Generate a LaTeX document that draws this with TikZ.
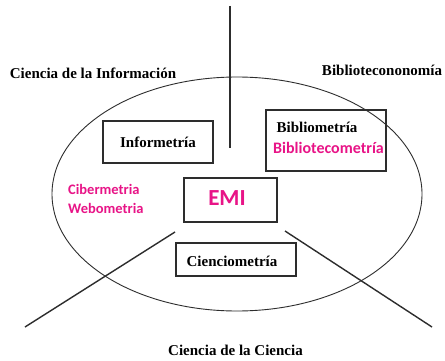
\documentclass[tikz,border=0pt]{standalone}
\usepackage{fontspec}
\setmainfont{Liberation Serif}
\newfontfamily\magfont{Carlito}
\definecolor{emipink}{RGB}{232,20,135}
\definecolor{inkgray}{RGB}{45,45,45}
\tikzset{
  lbl/.style={font=\bfseries\fontsize{15}{17}\selectfont, text=black, inner sep=0pt},
  pink/.style={font=\magfont\bfseries\fontsize{14.5}{16}\selectfont, text=emipink, inner sep=0pt},
  boxnode/.style={draw=inkgray, line width=1.1pt, inner sep=0pt},
  stroke/.style={draw=inkgray, line width=1.4pt},
}
\begin{document}
\begin{tikzpicture}[x=1pt,y=-1pt]
\useasboundingbox[fill=white] (0,0) rectangle (445,361);
% ellipse
\draw[draw=inkgray, line width=0.9pt] (237,194) ellipse [x radius=185, y radius=117];
% lines
\coordinate (vt) at (230,6);
\coordinate (vb) at (230,148);
\coordinate (l1) at (25,327);
\coordinate (l2) at (175,232);
\coordinate (r1) at (285,231);
\coordinate (r2) at (432,327);
\draw[stroke] (vt) -- (vb);
\draw[stroke] (l1) -- (l2);
\draw[stroke] (r1) -- (r2);
% boxes
\node[boxnode, minimum width=110pt, minimum height=42pt] (infobox) at (158,142) {};
\node[lbl] (info) at (158,142) {Informetría};
\node[boxnode, minimum width=120pt, minimum height=61pt] (bibbox) at (326,140.5) {};
\node[lbl] (bib) at (317,127) {Bibliometría};
\node[pink, font=\magfont\bfseries\fontsize{16}{18}\selectfont] (bibcom) at (328.5,148) {Bibliotecometría};
\node[boxnode, minimum width=93pt, minimum height=44pt] (emibox) at (230.5,200) {};
\node[font=\magfont\bfseries\fontsize{23}{26}\selectfont, text=emipink, inner sep=0pt] (emi) at (227,198) {EMI};
\node[boxnode, minimum width=120pt, minimum height=33pt] (ciebox) at (236,259.5) {};
\node[lbl] (cie) at (232,261) {Cienciometría};
% pink free text
\node[pink, anchor=west] (ciber) at (68,189) {Cibermetria};
\node[pink, anchor=west] (webo) at (68,208) {Webometria};
% outer labels
\node[lbl] (ci) at (93,73) {Ciencia de la Información};
\node[lbl] (bibeco) at (382,70) {Bibliotecononomía};
\node[lbl] (cc) at (235.5,350) {Ciencia de la Ciencia};
\end{tikzpicture}
\end{document}
